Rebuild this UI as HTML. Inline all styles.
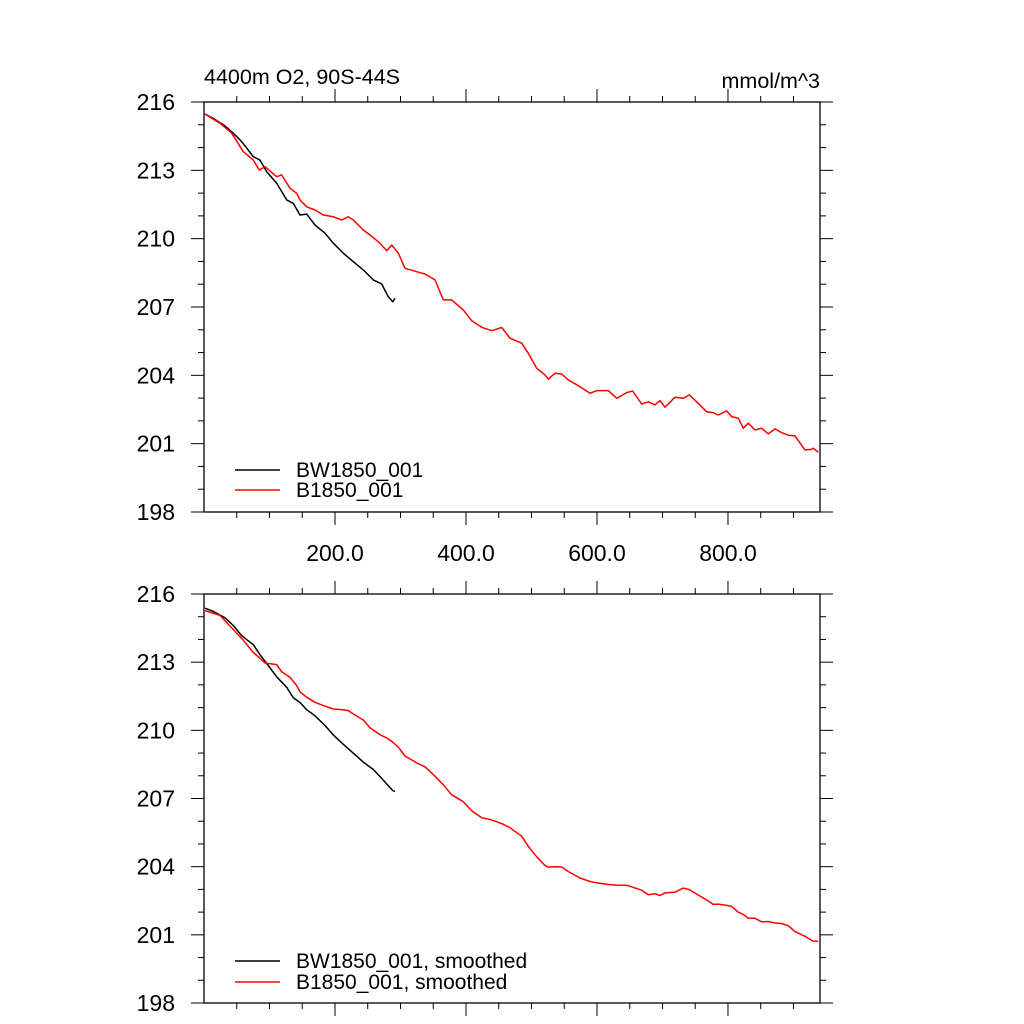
<!DOCTYPE html>
<html><head><meta charset="utf-8">
<style>
body{margin:0;background:#fff;}
svg{display:block;font-family:"Liberation Sans",sans-serif;}
</style></head>
<body>
<svg id="chart" width="1024" height="1024" viewBox="0 0 1024 1024">
<rect width="1024" height="1024" fill="#fff"/>
</svg>
<script>
const redYears=[1.5,24.4,42.3,60,75.3,84.4,93.1,111,118.6,131.3,141.5,146.6,156.8,169.5,182.1,197.4,210.2,220.3,228,243.2,253.4,268.7,278.9,286.6,296.6,306.9,324.7,337.4,352.7,365.3,378.2,395.9,408.7,424,439.2,454.5,467.2,485,495.1,507.9,520.6,525.6,535.9,546.1,556.2,574,589.3,599.5,617.3,630.1,645.3,654.5,668.2,678.3,688.5,696.2,703.8,719.1,731.8,740.9,752.2,767.5,777.6,785.2,798,805.6,815.7,823.4,831,841.2,851.5,861.5,871.8,882,892.1,902.3,917.6,927.8,930.3,937.9];
const redValues=[215.47,215.07,214.63,213.82,213.45,213.01,213.16,212.72,212.80,212.21,211.99,211.70,211.40,211.26,211.04,210.96,210.82,210.96,210.82,210.38,210.16,209.80,209.47,209.72,209.36,208.70,208.55,208.45,208.19,207.31,207.31,206.87,206.40,206.11,205.96,206.10,205.63,205.41,204.97,204.31,204.02,203.83,204.09,204.06,203.80,203.50,203.21,203.33,203.33,202.99,203.24,203.31,202.74,202.84,202.70,202.89,202.60,203.04,202.99,203.14,202.84,202.40,202.36,202.26,202.44,202.19,202.12,201.68,201.90,201.60,201.68,201.43,201.65,201.48,201.37,201.34,200.72,200.75,200.80,200.62];
const blackYears=[1.5,14.2,32.1,44.7,57.6,75.3,85.5,95.7,111,126.3,136.3,146.6,156.8,169.5,184.7,197.4,212.7,228,243.2,258.5,271.3,281.4,288.1,291.6];
const blackValues=[215.47,215.28,214.95,214.63,214.26,213.60,213.45,212.94,212.43,211.70,211.55,211.04,211.08,210.60,210.24,209.80,209.36,208.99,208.63,208.19,208.01,207.45,207.23,207.38];
const yTicks=[198,201,204,207,210,213,216];
const xTickLabels=["200.0","400.0","600.0","800.0"];
const xTickValues=[200,400,600,800];

const NS="http://www.w3.org/2000/svg";
const svg=document.getElementById('chart');
function mk(tag,attrs,parent){const e=document.createElementNS(NS,tag);for(const k in attrs)e.setAttribute(k,attrs[k]);(parent||svg).appendChild(e);return e;}
const X0=204,X1=820,XMIN=0,XMAX=940.5;
function xs(v){return X0+(v-XMIN)/(XMAX-XMIN)*(X1-X0);}
function smooth(a){return a.map((v,i)=>{const s=a.slice(Math.max(0,i-1),i+2);return s.reduce((p,c)=>p+c,0)/s.length;});}

function panel(top,bottom,name,showX,legend,smoothed){
  const g=mk('g',{});
  
  
  const ys=v=>bottom-(v-198)/(216-198)*(bottom-top);
  for(let v=198;v<=216;v++){
    const major=(v-198)%3===0, len=major?13:6;
    mk('line',{x1:X0-len,x2:X0,y1:ys(v),y2:ys(v),stroke:'#000','stroke-width':1},g);
    mk('line',{x1:X1,x2:X1+len,y1:ys(v),y2:ys(v),stroke:'#000','stroke-width':1},g);
  }
  for(let v=50;v<XMAX;v+=50){
    const major=v%200===0, len=major?13:6;
    mk('line',{x1:xs(v),x2:xs(v),y1:top-len,y2:top,stroke:'#000','stroke-width':1},g);
    mk('line',{x1:xs(v),x2:xs(v),y1:bottom,y2:bottom+len,stroke:'#000','stroke-width':1},g);
  }
  yTicks.forEach(v=>{
    const t=mk('text',{x:X0-29,y:ys(v)+8,'text-anchor':'end','font-size':23,fill:'#000'},g);
    t.textContent=v;
    
    
  });
  if(showX){xTickValues.forEach((v,i)=>{
    const t=mk('text',{x:xs(v),y:bottom+49,'text-anchor':'middle','font-size':23,fill:'#000'},g);
    t.textContent=xTickLabels[i];
    
    
  });}
  const series=[[blackYears,blackValues,'#000','bw1850-line'],[redYears,redValues,'#f00','b1850-line']];
  series.forEach(([xa,ya,c,n])=>{
    const vals=smoothed?smooth(ya):ya;
    const p=mk('polyline',{points:xa.map((x,i)=>xs(x).toFixed(1)+','+ys(vals[i]).toFixed(1)).join(' '),fill:'none',stroke:c,'stroke-width':1.5,'stroke-linejoin':'round'},g);
    
    
  });
  mk('rect',{x:X0,y:top,width:X1-X0,height:bottom-top,fill:'none',stroke:'#000','stroke-width':1.3},g);
  legend.forEach((l,i)=>{
    const ly=l.y;
    const ln=mk('line',{x1:235,x2:280,y1:ly,y2:ly,stroke:l.c,'stroke-width':1.5},g);
    
    
    const t=mk('text',{x:296,y:ly+7,'font-size':21,fill:'#000'},g);
    t.textContent=l.t;
    
    
  });
}
panel(102,512,'top-panel',true,[{y:470,c:'#000',t:'BW1850_001'},{y:490,c:'#f00',t:'B1850_001'}],false);
panel(594,1003,'bottom-panel',false,[{y:961,c:'#000',t:'BW1850_001, smoothed'},{y:982,c:'#f00',t:'B1850_001, smoothed'}],true);
const t1=mk('text',{x:204,y:84,'font-size':21.5,fill:'#000'});
t1.textContent='4400m O2, 90S-44S';


const t2=mk('text',{x:820,y:88,'text-anchor':'end','font-size':21.5,fill:'#000'});
t2.textContent='mmol/m^3';


</script>
</body></html>
